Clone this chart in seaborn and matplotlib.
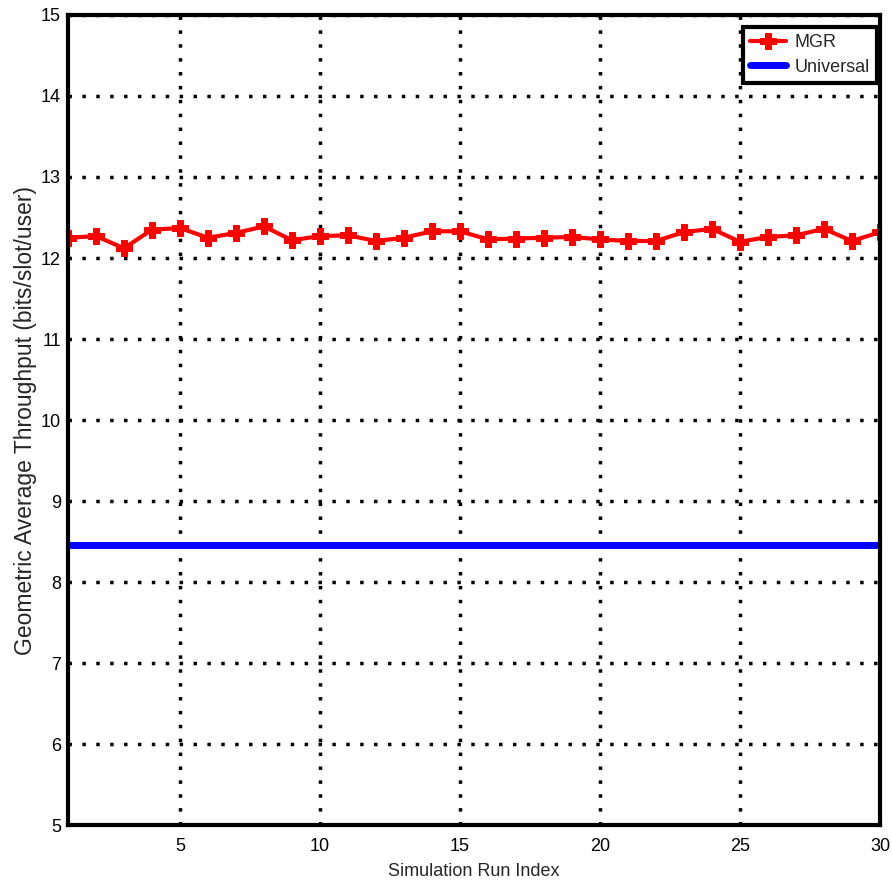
import matplotlib
matplotlib.use("Agg")
import matplotlib.pyplot as plt
import pandas as pd
import seaborn as sns

run_index = list(range(1, 31))
mgr_throughput = [12.25, 12.27, 12.12, 12.35, 12.37, 12.25, 12.31, 12.39, 12.22, 12.27,
                  12.28, 12.21, 12.25, 12.33, 12.33, 12.23, 12.24, 12.25, 12.26, 12.23,
                  12.21, 12.21, 12.32, 12.36, 12.20, 12.26, 12.28, 12.36, 12.21, 12.32]
universal_throughput = [8.46] * 30
x_ticks = [5, 10, 15, 20, 25, 30]
y_ticks = [5, 6, 7, 8, 9, 10, 11, 12, 13, 14, 15]

sns.set_style("white")
plt.rcParams["font.family"] = ["Liberation Sans", "DejaVu Sans"]

df = pd.DataFrame({
    "run": run_index * 2,
    "throughput": mgr_throughput + universal_throughput,
    "scheme": ["MGR"] * 30 + ["Universal"] * 30,
})

fig = plt.figure(figsize=(8.92, 8.82), dpi=100)
ax = fig.add_axes([0.0762, 0.0646, 0.9103, 0.9184])

sns.lineplot(data=df[df.scheme == "MGR"], x="run", y="throughput", ax=ax,
             color="#ff0000", lw=3, marker="P", markersize=11,
             markeredgecolor="#ff0000", label="MGR")
sns.lineplot(data=df[df.scheme == "Universal"], x="run", y="throughput", ax=ax,
             color="#0000ff", lw=5, label="Universal")

ax.set_xlim(1, 30)
ax.set_ylim(5, 15)
ax.set_xticks(x_ticks)
ax.set_yticks(y_ticks)
ax.grid(True, color="black", linestyle=(0, (1, 3)), linewidth=2.5)
ax.tick_params(direction="in", length=8, width=2, labelsize=13, colors="black")
ax.tick_params(axis="x", pad=9)
ax.tick_params(axis="y", pad=5)
for s in ax.spines.values():
    s.set_visible(True)
    s.set_linewidth(3)
    s.set_color("black")

ax.set_xlabel("Simulation Run Index", fontsize=13, labelpad=6)
ax.set_ylabel("Geometric Average Throughput (bits/slot/user)", fontsize=16.5, labelpad=3)

leg = ax.legend(loc="upper right", bbox_to_anchor=(0.996, 0.985), fontsize=13,
                fancybox=False, framealpha=1, borderaxespad=0.0,
                handlelength=2.0, handletextpad=0.45, labelspacing=0.4,
                borderpad=0.4, edgecolor="black")
leg.get_frame().set_linewidth(3)

fig.savefig("out.png", dpi=100, facecolor="white")
